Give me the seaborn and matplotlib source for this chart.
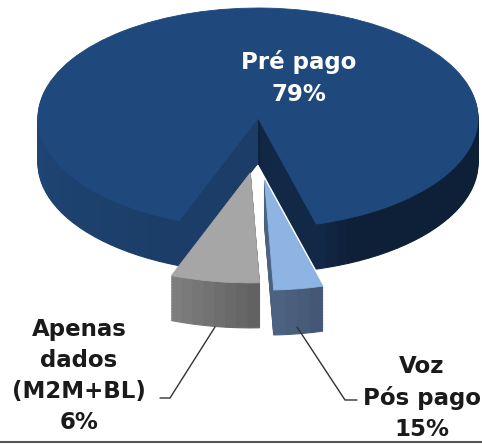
import numpy as np
import matplotlib
matplotlib.use("Agg")
import matplotlib.pyplot as plt
import seaborn as sns

sns.set_theme(style="white")
plt.rcParams["font.family"] = ["DejaVu Sans"]

# ---- data -------------------------------------------------------------
categories = ["Apenas\ndados\n(M2M+BL)", "Voz\nPós pago", "Pré pago"]
label_pct = [6, 15, 79]
drawn_share = [6.5, 3.6, 89.9]          # apparent slice shares in the picture (%)
top_colors = ["#A6A6A6", "#8DB4E2", "#1F497D"]
explode = [0.50, 0.565, 0.0]            # pull-out distance (radius units)
explode_dir = [266, 273, 0]              # pull-out direction (degrees)
start_angle = 249
draw_order = [2, 0, 1]                   # back slice first, exploded ones on top

# side-wall colour stops (angle in degrees, rgb)
side_stops = [
    [(240, (140, 140, 140)), (275, (92, 92, 92))],
    [(270, (80, 102, 134)), (290, (62, 82, 110))],
    [(0, (14, 31, 56)), (180, (32, 70, 118)), (255, (26, 60, 102)),
     (283, (20, 44, 78)), (295, (14, 31, 56)), (360, (14, 31, 56))],
]

W, H = 482, 444
fig = plt.figure(figsize=(W / 100, H / 100), dpi=100)
ax = fig.add_axes([0, 0, 1, 1])

CX, CY, RX, RY = 258, 118, 220, 110      # pixel geometry of the top face
thick = 45 / RY
n_layers = 30
sub_deg = 3.0


def side_color(stops, ang):
    ang = ang % 360
    a = [s[0] for s in stops]
    c = np.array([s[1] for s in stops], float)
    rgb = [np.interp(ang, a, c[:, k]) for k in range(3)]
    return tuple(v / 255 for v in rgb)


total = sum(drawn_share)
fracs = [s / total for s in drawn_share]
starts = start_angle + 360 * np.concatenate([[0], np.cumsum(fracs)[:-1]])

for i in draw_order:
    frac, a0 = fracs[i], starts[i]
    span = 360 * frac
    d = np.deg2rad(explode_dir[i])
    ex, ey = explode[i] * np.cos(d), explode[i] * np.sin(d)
    nsub = max(2, int(round(span / sub_deg)))
    sub_angles = a0 + (np.arange(nsub) + 0.5) * span / nsub
    cols = [side_color(side_stops[i], a) for a in sub_angles]
    for off in np.linspace(thick, 0, n_layers, endpoint=False):
        wedges, _ = ax.pie([frac / nsub] * nsub, startangle=a0, normalize=False,
                           counterclock=True, center=(ex, ey - off), radius=1,
                           colors=cols, wedgeprops=dict(linewidth=0.8))
        for w, c in zip(wedges, cols):
            w.set_edgecolor(c)
    ax.pie([frac], startangle=a0, normalize=False, counterclock=True,
           center=(ex, ey), radius=1, colors=[top_colors[i]],
           wedgeprops=dict(linewidth=0.6, edgecolor=top_colors[i]))

ax.set_aspect("auto")
ax.set_xlim(-CX / RX, (W - CX) / RX)
ax.set_ylim((CY - H) / RY, CY / RY)
ax.axis("off")


def fx(px):
    return px / W


def fy(py):
    return 1 - py / H


fs = 16.5
lbl = [f"{c}\n{p}%" for c, p in zip(categories, label_pct)]
fig.text(fx(299), fy(78), lbl[2], ha="center", va="center", color="white",
         fontsize=fs, fontweight="bold", linespacing=1.45)
fig.text(fx(79), fy(376), lbl[0], ha="center", va="center", color="#1a1a1a",
         fontsize=fs, fontweight="bold", linespacing=1.45)
fig.text(fx(422), fy(398), lbl[1], ha="center", va="center", color="#1a1a1a",
         fontsize=fs, fontweight="bold", linespacing=1.45)

# leader lines
for xs, ys in [([215, 170, 160], [327, 398, 398]), ([297, 345, 357], [327, 400, 400])]:
    fig.add_artist(plt.Line2D([fx(x) for x in xs], [fy(y) for y in ys],
                              color="#333333", lw=1.0))
# bottom rule
fig.add_artist(plt.Line2D([0, 1], [fy(442), fy(442)], color="#555555", lw=1.5))

fig.savefig("out.png", dpi=100)
